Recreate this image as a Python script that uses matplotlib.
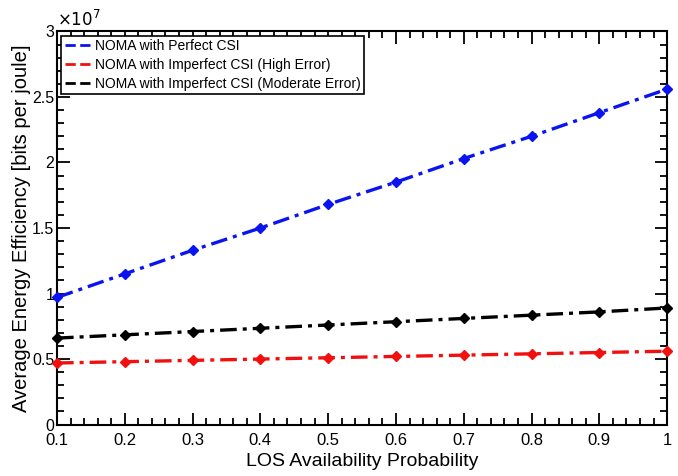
import matplotlib
matplotlib.use('Agg')
import matplotlib.pyplot as plt
from matplotlib.lines import Line2D
from matplotlib.ticker import MultipleLocator, FuncFormatter

plt.rcParams['font.family'] = ['Liberation Sans', 'DejaVu Sans']

# LOS availability probability
p_los = [0.1, 0.2, 0.3, 0.4, 0.5, 0.6, 0.7, 0.8, 0.9, 1.0]

# average energy efficiency (x 1e7 bits per joule)
ee_perfect = [0.97, 1.15, 1.33, 1.50, 1.68, 1.85, 2.03, 2.20, 2.38, 2.56]
ee_high_err = [0.47, 0.48, 0.49, 0.50, 0.51, 0.52, 0.53, 0.54, 0.55, 0.56]
ee_mod_err = [0.66, 0.685, 0.71, 0.735, 0.76, 0.785, 0.81, 0.835, 0.86, 0.89]

labels = ['NOMA with Perfect CSI',
          'NOMA with Imperfect CSI (High Error)',
          'NOMA with Imperfect CSI (Moderate Error)']
colors = ['#0a14f0', '#f01010', 'black']

fig = plt.figure(figsize=(6.78, 4.76), dpi=100)
ax = fig.add_axes([0.084, 0.108, 0.900, 0.826])

for ys, c in zip([ee_perfect, ee_high_err, ee_mod_err], colors):
    ax.plot(p_los, [v * 1e7 for v in ys], color=c, lw=2.4,
            dashes=(5, 1.8, 1.2, 1.8), marker='D', ms=5.5, clip_on=False, zorder=3)

ax.set_xlim(0.1, 1.0)
ax.set_ylim(0, 3e7)
ax.xaxis.set_major_locator(MultipleLocator(0.1))
ax.xaxis.set_minor_locator(MultipleLocator(0.02))
ax.yaxis.set_major_locator(MultipleLocator(0.5e7))
ax.yaxis.set_minor_locator(MultipleLocator(0.1e7))
ax.xaxis.set_major_formatter(FuncFormatter(lambda v, pos: f'{v:.1f}'.rstrip('0').rstrip('.')))
ax.yaxis.set_major_formatter(FuncFormatter(lambda v, pos: f'{v / 1e7:.1f}'.rstrip('0').rstrip('.')))
ax.text(0.0, 1.005, r'$\times10^7$', transform=ax.transAxes, fontsize=12,
        ha='left', va='bottom')

ax.tick_params(which='both', direction='in', top=True, right=True, labelsize=12, width=1.3)
ax.tick_params(axis='y', labelsize=11.5, pad=2)
ax.tick_params(axis='x', pad=6)
ax.tick_params(which='major', length=9)
ax.tick_params(which='minor', length=5)
for s in ax.spines.values():
    s.set_linewidth(1.5)

ax.set_xlabel('LOS Availability Probability', fontsize=14, labelpad=4)
ax.set_ylabel('Average Energy Efficiency [bits per joule]', fontsize=14.5)
ax.yaxis.set_label_coords(-0.042, 0.5)

handles = [Line2D([], [], color=c, lw=2, linestyle='--') for c in colors]
leg = ax.legend(handles, labels, loc='upper left', fontsize=10, fancybox=False,
                edgecolor='black', framealpha=1, handlelength=2.0,
                handletextpad=0.2, borderpad=0.25, labelspacing=0.35,
                borderaxespad=0.3)
leg.get_frame().set_linewidth(1.2)

fig.savefig('out.png', dpi=100)
